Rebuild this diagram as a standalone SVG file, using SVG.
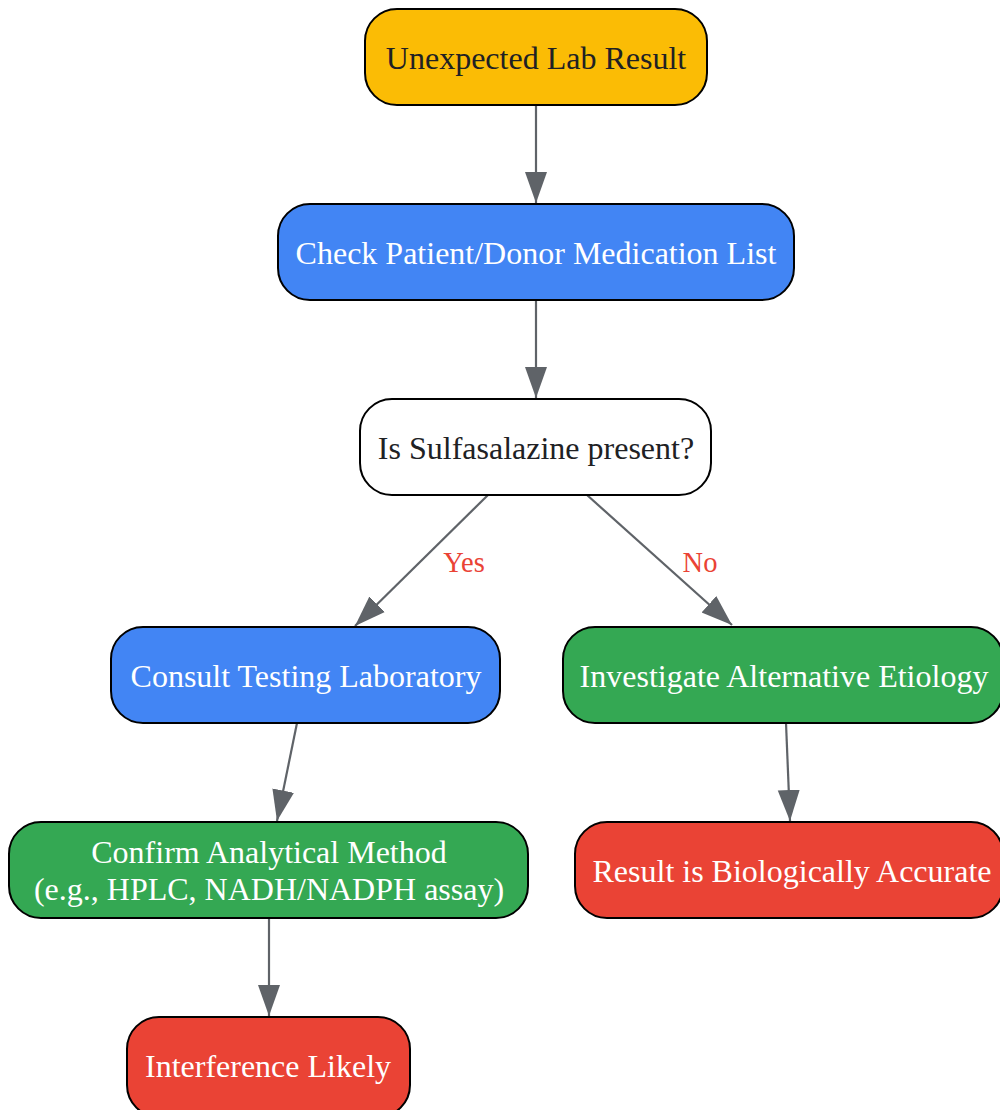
<svg xmlns="http://www.w3.org/2000/svg" width="1000" height="1110" viewBox="0 0 1000 1110">
<style>
.n{stroke:#000;stroke-width:2}
.t{font-family:"Liberation Serif","Times New Roman",serif;font-size:32px;text-anchor:middle;dominant-baseline:central}
.w{fill:#fff}
.d{fill:#202124}
.e{stroke:#5f6368;stroke-width:2.2;fill:none;marker-end:url(#ah)}
.l{font-family:"Liberation Serif","Times New Roman",serif;font-size:28.5px;fill:#ea4335;text-anchor:middle;dominant-baseline:central}
</style>
<defs>
<marker id="ah" markerUnits="userSpaceOnUse" markerWidth="32" markerHeight="24" viewBox="0 0 32 24" refX="31" refY="12" orient="auto">
<path d="M0,1 L31,12 L0,23 z" fill="#5f6368"/>
</marker>
</defs>
<rect width="1000" height="1110" fill="#fff"/>
<g id="connectors">
<line class="e" x1="536" y1="105" x2="536" y2="203"/>
<line class="e" x1="536" y1="300" x2="536" y2="398"/>
<line class="e" x1="488" y1="495" x2="355" y2="626"/>
<text class="l" x="464" y="562">Yes</text>
<line class="e" x1="587" y1="495" x2="732" y2="625"/>
<text class="l" x="700" y="562">No</text>
<line class="e" x1="297" y1="723" x2="277" y2="821"/>
<line class="e" x1="786" y1="723" x2="790" y2="821"/>
<line class="e" x1="269" y1="918" x2="269" y2="1016"/>
</g>
<g id="n1"><rect class="n" x="365" y="9" width="342" height="96" rx="32" fill="#fbbc05"/><text class="t d" x="536" y="58">Unexpected Lab Result</text></g>
<g id="n2"><rect class="n" x="278" y="204" width="516" height="96" rx="32" fill="#4285f4"/><text class="t w" x="536" y="253">Check Patient/Donor Medication List</text></g>
<g id="n3"><rect class="n" x="360" y="399" width="351" height="96" rx="32" fill="#fff"/><text class="t d" x="536" y="448">Is Sulfasalazine present?</text></g>
<g id="n4"><rect class="n" x="111" y="627" width="389" height="96" rx="32" fill="#4285f4"/><text class="t w" x="306" y="676">Consult Testing Laboratory</text></g>
<g id="n5"><rect class="n" x="563" y="627" width="440" height="96" rx="32" fill="#34a853"/><text class="t w" x="784" y="676">Investigate Alternative Etiology</text></g>
<g id="n6"><rect class="n" x="9" y="822" width="519" height="96" rx="32" fill="#34a853"/><text class="t w" x="269" y="852">Confirm Analytical Method</text><text class="t w" x="269" y="889">(e.g., HPLC, NADH/NADPH assay)</text></g>
<g id="n7"><rect class="n" x="575" y="822" width="428" height="96" rx="32" fill="#ea4335"/><text class="t w" x="792" y="871">Result is Biologically Accurate</text></g>
<g id="n8"><rect class="n" x="127" y="1017" width="283" height="100" rx="32" fill="#ea4335"/><text class="t w" x="268" y="1066">Interference Likely</text></g>
</svg>
